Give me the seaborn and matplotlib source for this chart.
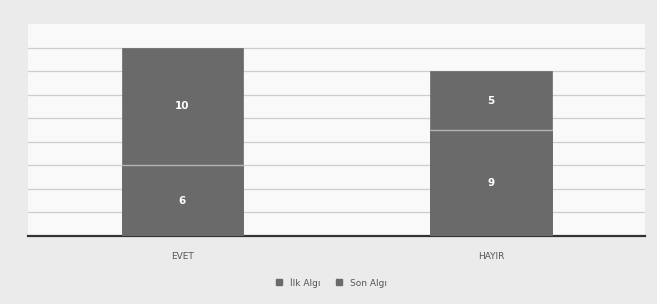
import numpy as np
import pandas as pd
import matplotlib
matplotlib.use('Agg')
import matplotlib.pyplot as plt
import seaborn as sns

# values
categories = ['EVET', 'HAYIR']
ilk_algi = [6, 9]
son_algi = [10, 5]
series_names = ['İlk Algı', 'Son Algı']

df = pd.DataFrame({'cat': categories, 'ilk': ilk_algi, 'son': son_algi})
df['total'] = df['ilk'] + df['son']

sns.set_style('white')
plt.rcParams['font.family'] = ['DejaVu Sans']

fig = plt.figure(figsize=(6.57, 3.04), dpi=100, facecolor='#ebebeb')
ax = fig.add_axes([0.043, 0.224, 0.939, 0.697])
ax.set_facecolor('#f9f9f9')

bar_col = '#6a6a6a'
# stacked bars: draw totals, then the bottom part on top
sns.barplot(data=df, x='cat', y='total', color=bar_col, width=0.395,
            saturation=1, edgecolor=bar_col, linewidth=0.5, ax=ax, zorder=3)
sns.barplot(data=df, x='cat', y='ilk', color=bar_col, width=0.395,
            saturation=1, edgecolor=bar_col, linewidth=0.5, ax=ax, zorder=4)
# light separator between the two segments
for i, row in df.iterrows():
    ax.plot([i - 0.1975, i + 0.1975], [row['ilk'], row['ilk']], color='#b4b4b4',
            linewidth=1.0, zorder=5)

for i, row in df.iterrows():
    ax.text(i, row['ilk'] / 2, str(row['ilk']), ha='center', va='center',
            color='white', fontsize=7.5, fontweight='bold', zorder=6)
    ax.text(i, row['ilk'] + row['son'] / 2, str(row['son']), ha='center', va='center',
            color='white', fontsize=7.5, fontweight='bold', zorder=6)

ax.set_xlim(-0.5, 1.5)
ax.set_ylim(0, 18)
ax.set_yticks(np.arange(2, 17, 2))
ax.yaxis.grid(True, color='#cdcdcd', linewidth=0.9)
ax.set_axisbelow(True)
ax.tick_params(axis='y', left=False, labelleft=False)
ax.tick_params(axis='x', bottom=False, labelsize=6.5, labelcolor='#555555', pad=8)
ax.set_xlabel('')
ax.set_ylabel('')
for s in ['top', 'right', 'left']:
    ax.spines[s].set_visible(False)
ax.spines['bottom'].set_color('#333333')
ax.spines['bottom'].set_linewidth(1.6)

handles = [plt.Line2D([], [], marker='s', linestyle='', color=bar_col, markersize=4)
           for _ in series_names]
fig.legend(handles, series_names, loc='center', bbox_to_anchor=(0.5, 0.07), ncol=2,
           frameon=False, fontsize=6.5, handletextpad=0.2, columnspacing=1.0,
           labelcolor='#555555')

fig.savefig('out.png', dpi=100, facecolor=fig.get_facecolor())
